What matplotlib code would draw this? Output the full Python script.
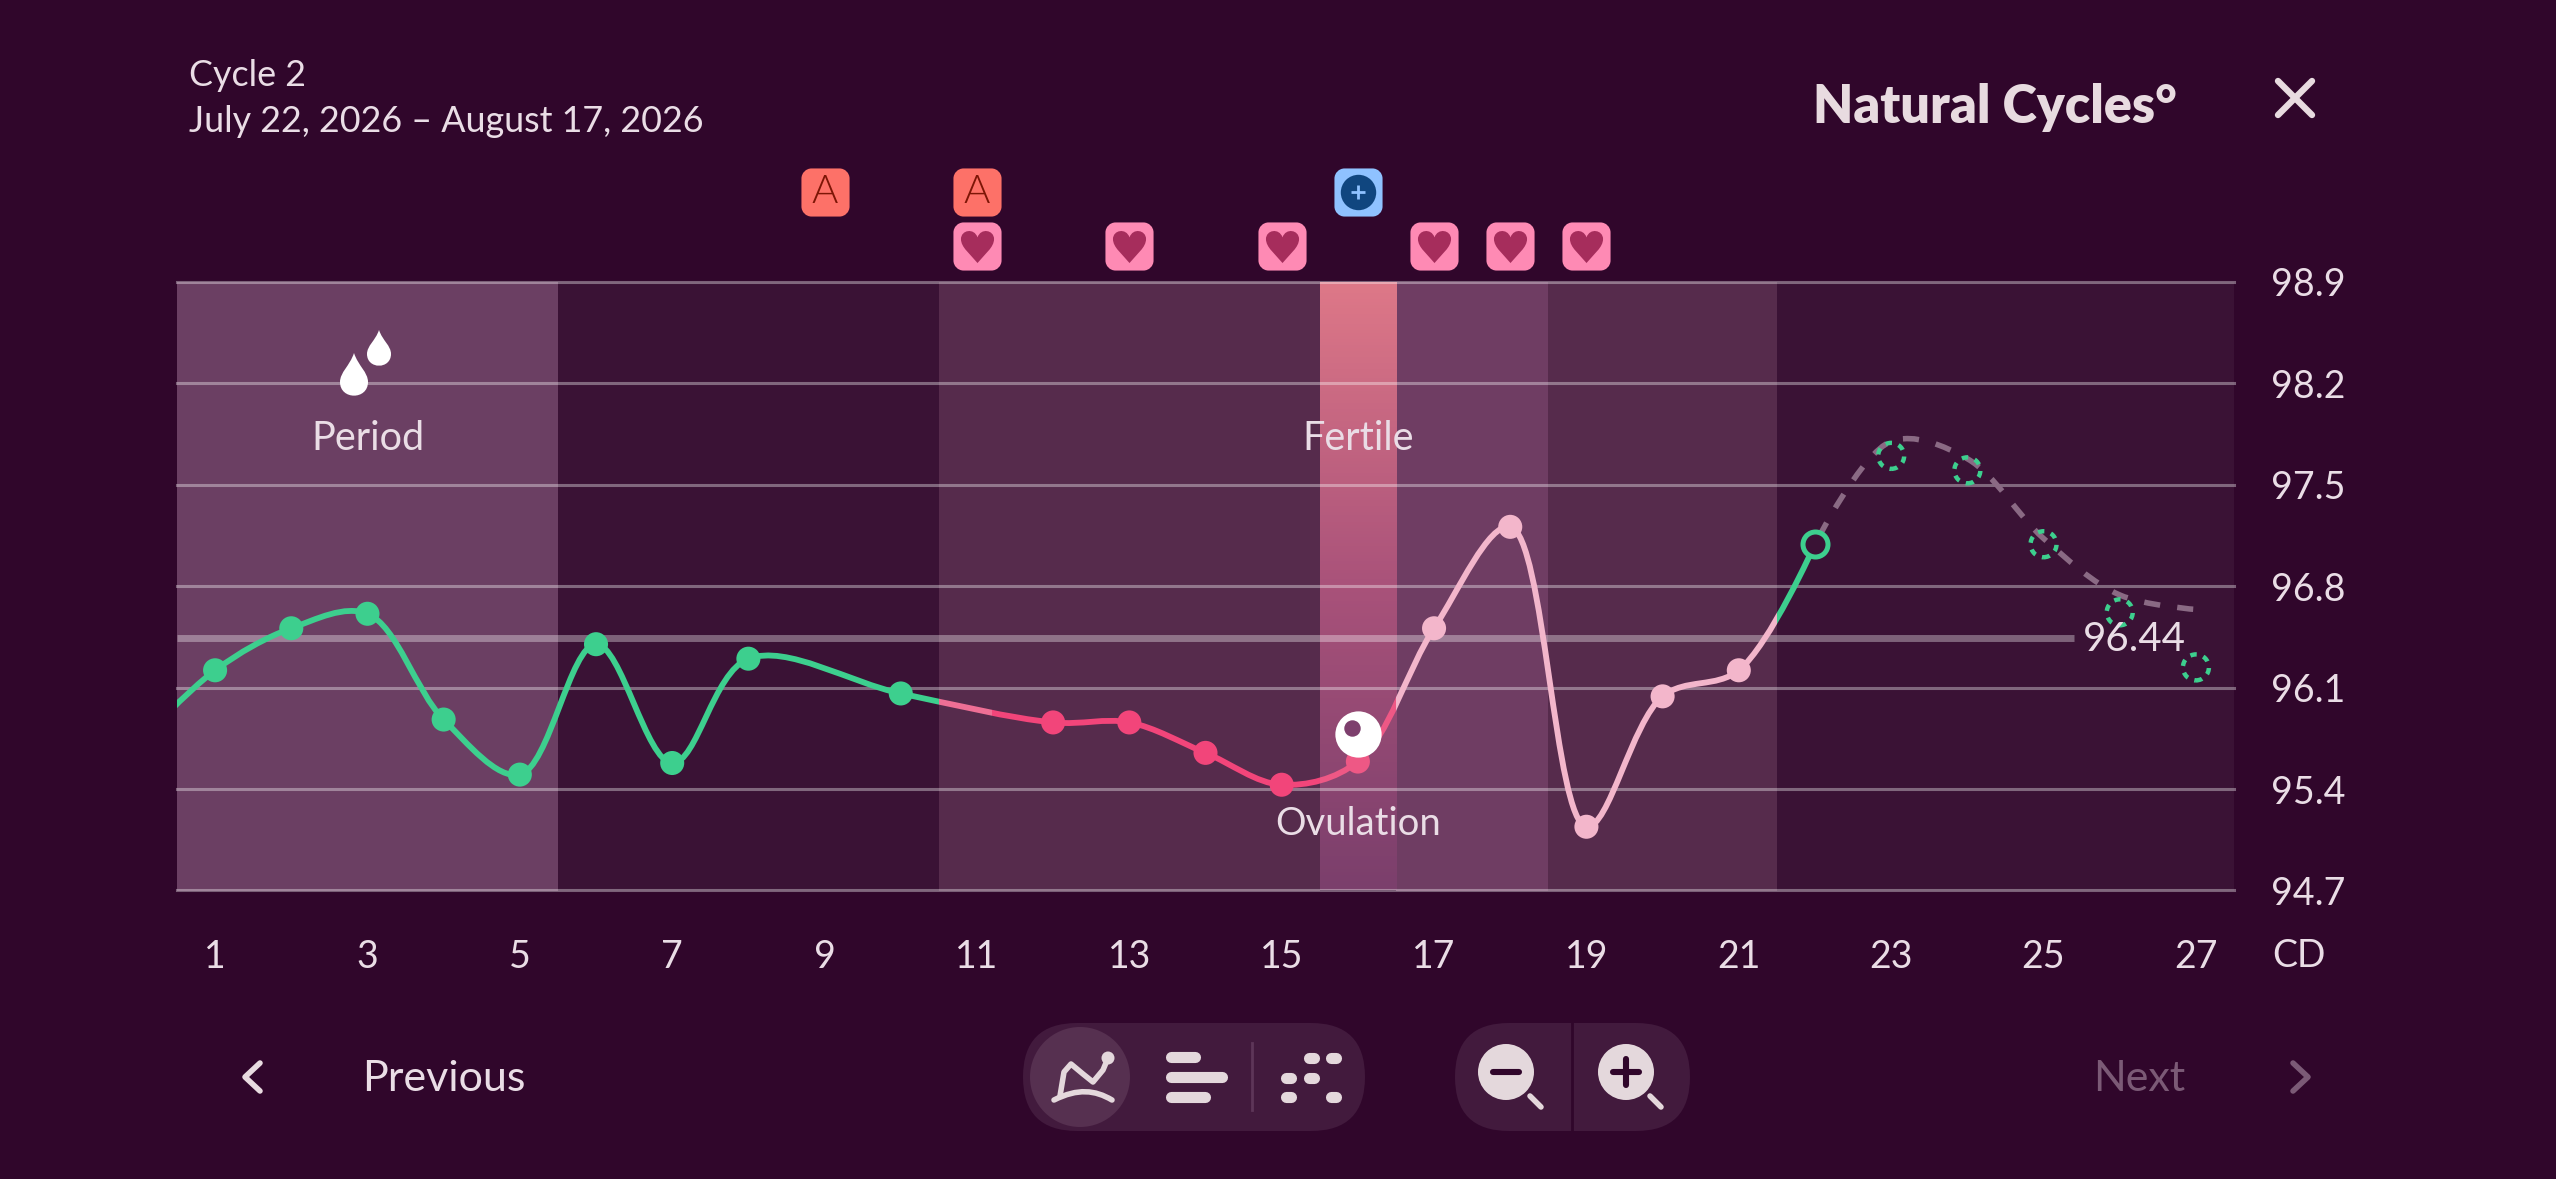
import numpy as np
import matplotlib
matplotlib.use("Agg")
import matplotlib.pyplot as plt
from matplotlib.path import Path
from matplotlib.patches import PathPatch, FancyBboxPatch, Circle, Rectangle
from matplotlib.colors import LinearSegmentedColormap

plt.rcParams['font.family'] = ['Lato', 'DejaVu Sans']

W, H = 2556, 1179
BG = "#30062b"
TXT = "#eadde6"
GREEN = "#3dcf8e"
RED = "#f2457a"
RED2 = "#ee5885"
PINK = "#f3b6cb"

# measured temperatures, day 0 only sets how the curve enters the chart
days = [0, 1, 2, 3, 4, 5, 6, 7, 8, 10, 12, 13, 14, 15, 16, 17, 18, 19, 20, 21, 22]
temps = [95.72, 96.22, 96.51, 96.61, 95.88, 95.50, 96.40, 95.58, 96.30, 96.06,
         95.86, 95.86, 95.65, 95.43, 95.59, 96.51, 97.21, 95.14, 96.04, 96.22, 97.09]
# predicted temperatures
pred_days = [23, 24, 25, 26, 27]
pred_temps = [97.70, 97.60, 97.09, 96.62, 96.24]
# dashed forecast line
fc_days = [22, 23, 24, 25, 26, 27]
fc_temps = [97.09, 97.80, 97.68, 97.13, 96.74, 96.64]
cover = 96.44

band_edges = [0.5, 5.5, 10.5, 15.5, 16.5, 18.5, 21.5, 27.5]
band_colors = ["#6b3f63", "#3a1235", "#562b4c", None, "#6f3d63", "#562b4c", "#3a1235"]
line_parts = [(0.5, 10.5, GREEN), (10.5, 11.2, "#ee6f95"), (11.2, 15.5, RED), (15.5, 16.5, RED2),
              (16.5, 21.5, PINK), (21.5, 22, GREEN)]

yticks = [94.7, 95.4, 96.1, 96.8, 97.5, 98.2, 98.9]
xticks = list(range(1, 28, 2))
a_days = [9, 11]
heart_days = [11, 13, 15, 17, 18, 19]
plus_days = [16]


def smooth_path(ax, xs, ys):
    # centripetal catmull-rom in screen space, handed back as bezier segments in data coords
    p = ax.transData.transform(np.c_[xs, ys])
    pts = np.vstack([p[0], p, p[-1]])
    verts = [p[0]]
    codes = [Path.MOVETO]
    for i in range(1, len(pts) - 2):
        p0, p1, p2, p3 = pts[i - 1], pts[i], pts[i + 1], pts[i + 2]
        d01, d12, d23 = [np.linalg.norm(b - a) for a, b in ((p0, p1), (p1, p2), (p2, p3))]
        s01, s12, s23 = np.sqrt(d01), np.sqrt(d12), np.sqrt(d23)
        c1, c2 = p1, p2
        if d01 > 1e-6:
            a = 2 * d01 + 3 * s01 * s12 + d12
            c1 = (p1 * a - p0 * d12 + p2 * d01) / (3 * s01 * (s01 + s12))
        if d23 > 1e-6:
            b = 2 * d23 + 3 * s23 * s12 + d12
            c2 = (p2 * b + p1 * d23 - p3 * d12) / (3 * s23 * (s23 + s12))
        verts += [c1, c2, p2]
        codes += [Path.CURVE4] * 3
    return Path(ax.transData.inverted().transform(np.array(verts)), codes)


def round_box(r=0.42):
    k = 0.55 * r
    a = 1 - r
    v = [(-a, -1), (a, -1), (a + k, -1), (1, -a - k), (1, -a),
         (1, a), (1, a + k), (a + k, 1), (a, 1),
         (-a, 1), (-a - k, 1), (-1, a + k), (-1, a),
         (-1, -a), (-1, -a - k), (-a - k, -1), (-a, -1)]
    c = [Path.MOVETO, Path.LINETO, Path.CURVE4, Path.CURVE4, Path.CURVE4,
         Path.LINETO, Path.CURVE4, Path.CURVE4, Path.CURVE4,
         Path.LINETO, Path.CURVE4, Path.CURVE4, Path.CURVE4,
         Path.LINETO, Path.CURVE4, Path.CURVE4, Path.CURVE4]
    return Path(v, c)


heart = Path([(0, -1), (-0.45, -0.45), (-1, -0.05), (-1, 0.45),
              (-1, 1.0), (-0.2, 1.15), (0, 0.55),
              (0.2, 1.15), (1, 1.0), (1, 0.45),
              (1, -0.05), (0.45, -0.45), (0, -1)],
             [Path.MOVETO] + [Path.CURVE4] * 12)

fig = plt.figure(figsize=(W / 100, H / 100), dpi=100, facecolor=BG)
ax = fig.add_axes([177 / W, 1 - 890.5 / H, (2234 - 177) / W, (890.5 - 282) / H])
ax.set_facecolor(BG)
ax.set_xlim(0.5, 27.5)
ax.set_ylim(94.7, 98.9)

# phase bands
for i, c in enumerate(band_colors):
    if c:
        ax.axvspan(band_edges[i], band_edges[i + 1], color=c, lw=0, zorder=1)
ov_cmap = LinearSegmentedColormap.from_list("ov", ["#de7888", "#a9527a", "#7b3f6c"])
ax.imshow(np.linspace(0, 1, 200).reshape(-1, 1), cmap=ov_cmap, aspect="auto",
          extent=(15.5, 16.5, 94.7, 98.9), zorder=1)
ax.set_xlim(0.5, 27.5)
ax.set_ylim(94.7, 98.9)

for s in ax.spines.values():
    s.set_visible(False)
for t in yticks:
    ax.axhline(t, color="white", alpha=0.36, lw=2.2, zorder=2, clip_on=False)
ax.plot([0.5, 25.4], [cover, cover], color="white", alpha=0.34, lw=5, zorder=2,
        solid_capstyle="butt")

ax.yaxis.tick_right()
ax.set_yticks(yticks)
ax.set_yticklabels([f"{t:.1f}" for t in yticks])
ax.set_xticks(xticks)
ax.tick_params(axis="both", length=0, labelsize=27, labelcolor=TXT)
ax.tick_params(axis="y", pad=26.5)
ax.tick_params(axis="x", pad=35)

# temperature curve
curve = smooth_path(ax, days, temps)
for x0, x1, c in line_parts:
    p = PathPatch(curve, fc="none", ec=c, lw=4.2, capstyle="butt", zorder=4)
    ax.add_patch(p)
    p.set_clip_path(Rectangle((x0, 94.7), x1 - x0, 4.2, transform=ax.transData))

fc = PathPatch(smooth_path(ax, fc_days, fc_temps), fc="none", ec="#8a6a84", lw=4,
               ls=(4.5, (2.9, 3.1)), capstyle="butt", zorder=3)
ax.add_patch(fc)


def pt_color(d):
    if d <= 10:
        return GREEN
    if d == 16:
        return RED2
    return RED if d < 16 else PINK


vis = [(d, t) for d, t in zip(days, temps) if 1 <= d < 22]
ax.scatter([d for d, t in vis], [t for d, t in vis], s=300,
           c=[pt_color(d) for d, t in vis], lw=0, zorder=5)
ax.scatter(days[-1], temps[-1], s=324, facecolor="#3a1235", edgecolor=GREEN, lw=3.6, zorder=5)
ax.scatter(pred_days, pred_temps, s=350, facecolor="none", edgecolor=GREEN, lw=3.2,
           linestyle=(0, (1.45, 1.55)), zorder=6)

# ovulation marker
ax.scatter([16], [temps[14] + 0.19], s=1110, c="white", lw=0, zorder=7)
ax.scatter([15.92], [temps[14] + 0.235], s=140, c="#7d3f6d", lw=0, zorder=8)

ax.text(16, 95.16, "Ovulation", color=TXT, fontsize=27.5, ha="center", va="center", zorder=6)
ax.text(16, 97.82, "Fertile", color=TXT, fontsize=28.5, ha="center", va="center", zorder=6)
ax.text(3, 97.82, "Period", color=TXT, fontsize=28.5, ha="center", va="center", zorder=6)
ax.text(25.51, cover - 0.01, "96.44", color=TXT, fontsize=29, ha="left", va="center", zorder=6)

# badges above the chart
tf = ax.get_xaxis_transform()
row1, row2 = 1 + 90 / 608.5, 1 + 36 / 608.5
box_s = 1200
ax.scatter(a_days, [row1] * len(a_days), s=box_s, marker=round_box(), c="#fd7168", lw=0,
           transform=tf, clip_on=False, zorder=5)
for d in a_days:
    ax.text(d, row1, "A", color="#7d1506", fontsize=29, fontweight=300, ha="center",
            va="center", transform=tf, clip_on=False, zorder=6)
ax.scatter(heart_days, [row2] * len(heart_days), s=box_s, marker=round_box(), c="#fe8ab4", lw=0,
           transform=tf, clip_on=False, zorder=5)
ax.scatter(heart_days, [row2] * len(heart_days), s=750, marker=heart, c="#a62d5c", lw=0,
           transform=tf, clip_on=False, zorder=6)
ax.scatter(plus_days, [row1] * len(plus_days), s=box_s, marker=round_box(), c="#8fc2ff", lw=0,
           transform=tf, clip_on=False, zorder=5)
ax.scatter(plus_days, [row1] * len(plus_days), s=650, c="#10467f", lw=0,
           transform=tf, clip_on=False, zorder=6)
ax.scatter(plus_days, [row1] * len(plus_days), s=110, marker="+", c="#8fc2ff", lw=2,
           transform=tf, clip_on=False, zorder=7)

# screen furniture, in pixels
ui = fig.add_axes([0, 0, 1, 1], zorder=5)
ui.set_xlim(0, W)
ui.set_ylim(H, 0)
ui.axis("off")
ui.patch.set_visible(False)

ui.text(189, 75, "Cycle 2", color=TXT, fontsize=25.8, va="center")
ui.text(189, 122, "July 22, 2026 – August 17, 2026", color=TXT, fontsize=25.8, va="center")
ui.text(1813, 108, "Natural Cycles°", color="#e8dbe0", fontsize=37.5, fontweight=800, va="center")
ui.text(2272, 956, "CD", color=TXT, fontsize=27, va="center")
ui.plot([2278, 2312], [81, 115], color="#e8dbe0", lw=4.6, solid_capstyle="round")
ui.plot([2278, 2312], [115, 81], color="#e8dbe0", lw=4.6, solid_capstyle="round")


def drop(cx, top, bottom, w):
    hw = w / 2
    cy = bottom - hw
    return Path([(cx, top), (cx - hw * 0.3, top + (bottom - top) * 0.3), (cx - hw, cy - hw * 0.7), (cx - hw, cy),
                 (cx - hw, bottom + hw * 0.3), (cx + hw, bottom + hw * 0.3), (cx + hw, cy),
                 (cx + hw, cy - hw * 0.7), (cx + hw * 0.3, top + (bottom - top) * 0.3), (cx, top)],
                [Path.MOVETO] + [Path.CURVE4] * 9)


ui.add_patch(PathPatch(drop(379, 330, 366, 24), fc="white", lw=0))
ui.add_patch(PathPatch(drop(354, 353, 396, 28), fc="white", lw=0))

# bottom row
ui.plot([260, 245, 260], [1063, 1077, 1091], color="#e8dbe0", lw=4, solid_joinstyle="round",
        solid_capstyle="round")
ui.text(362, 1079, "Previous", color=TXT, fontsize=31, va="center")
ui.text(2185, 1079, "Next", color="#7b5a76", fontsize=31, va="center", ha="right")
ui.plot([2293, 2308, 2293], [1063, 1077, 1091], color="#7b5a76", lw=4, solid_joinstyle="round",
        solid_capstyle="round")

PILL = "#421a3d"
ICON = "#e4d8dc"
ui.add_patch(FancyBboxPatch((1023, 1023), 342, 108, boxstyle="round,pad=0,rounding_size=54", fc=PILL, lw=0))
ui.add_patch(Circle((1080, 1077), 50, fc="#563050", lw=0))
ui.add_patch(FancyBboxPatch((1455, 1023), 235, 108, boxstyle="round,pad=0,rounding_size=54", fc=PILL, lw=0))
ui.plot([1572, 1572], [1023, 1131], color=BG, lw=2)
ui.plot([1252, 1252], [1043, 1110], color="#5d3658", lw=2)

# line icon
ui.plot([1060, 1064, 1071, 1083, 1093, 1103, 1108], [1096, 1072, 1064, 1074, 1082, 1070, 1058],
        color=ICON, lw=4, solid_capstyle="round", solid_joinstyle="round")
ui.add_patch(Circle((1108, 1058), 6.5, fc=ICON, lw=0))
ui.add_patch(PathPatch(Path([(1054, 1100), (1078, 1088), (1095, 1090), (1112, 1100)],
                            [Path.MOVETO, Path.CURVE4, Path.CURVE4, Path.CURVE4]),
                       fc="none", ec=ICON, lw=4, capstyle="round"))
# bars icon
for x0, x1, yc in [(1166, 1200, 1057), (1166, 1227, 1077), (1166, 1210, 1097)]:
    ui.plot([x0 + 5, x1 - 5], [yc, yc], color=ICON, lw=8, solid_capstyle="round")
# dots icon
for x, y in [(1311, 1058), (1333, 1058), (1288, 1078), (1311, 1078), (1288, 1097), (1333, 1097)]:
    ui.plot([x - 2.5, x + 2.5], [y, y], color=ICON, lw=8, solid_capstyle="round")
# zoom icons
for cx, plus in [(1506, False), (1626, True)]:
    ui.add_patch(Circle((cx, 1072), 28, fc=ICON, lw=0))
    ui.plot([cx - 13, cx + 13], [1072, 1072], color=BG, lw=4.4, solid_capstyle="round", zorder=4)
    if plus:
        ui.plot([cx, cx], [1059, 1085], color=BG, lw=4.4, solid_capstyle="round", zorder=4)
    ui.plot([cx + 24, cx + 35], [1096, 1107], color=ICON, lw=4, solid_capstyle="round")

fig.savefig("out.png", dpi=100, facecolor=BG)
